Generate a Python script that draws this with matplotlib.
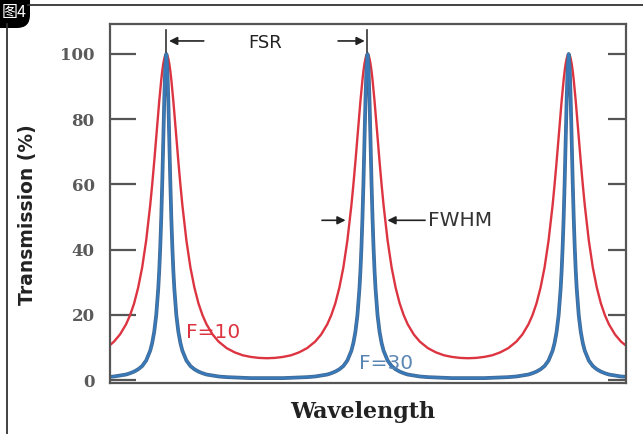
import matplotlib.pyplot as plt
import matplotlib.patheffects as pe
from matplotlib.lines import Line2D
from matplotlib.patches import FancyBboxPatch

# wavelength in units of the free spectral range (peaks at 0, 1, 2)
wavelength = [
    -0.28, -0.26, -0.23, -0.20, -0.18, -0.16, -0.14, -0.12, -0.10, -0.08, -0.07, -0.06,
    -0.05, -0.04, -0.035, -0.03, -0.025, -0.02, -0.015, -0.01, -0.005, 0.0,
    0.005, 0.01, 0.015, 0.02, 0.025, 0.03, 0.035, 0.04, 0.05, 0.06, 0.07, 0.08,
    0.10, 0.12, 0.14, 0.16, 0.18, 0.20, 0.23, 0.26, 0.30, 0.34, 0.38, 0.42, 0.46, 0.50,
    0.54, 0.58, 0.62, 0.66, 0.70, 0.74, 0.77, 0.80, 0.82, 0.84, 0.86, 0.88, 0.90, 0.92,
    0.93, 0.94, 0.95, 0.96, 0.965, 0.97, 0.975, 0.98, 0.985, 0.99, 0.995, 1.0,
    1.005, 1.01, 1.015, 1.02, 1.025, 1.03, 1.035, 1.04, 1.05, 1.06, 1.07, 1.08,
    1.10, 1.12, 1.14, 1.16, 1.18, 1.20, 1.23, 1.26, 1.30, 1.34, 1.38, 1.42, 1.46, 1.50,
    1.54, 1.58, 1.62, 1.66, 1.70, 1.74, 1.77, 1.80, 1.82, 1.84, 1.86, 1.88, 1.90, 1.92,
    1.93, 1.94, 1.95, 1.96, 1.965, 1.97, 1.975, 1.98, 1.985, 1.99, 1.995, 2.0,
    2.005, 2.01, 2.015, 2.02, 2.025, 2.03, 2.035, 2.04, 2.05, 2.06, 2.07, 2.08,
    2.10, 2.12, 2.14, 2.16, 2.18, 2.20, 2.23, 2.26, 2.29,
]

# F=10 (red)
trans_f10 = [
    10.7, 11.8, 14.0, 17.1, 19.9, 23.5, 28.3, 34.5, 42.8, 53.6, 60.0, 67.0,
    74.5, 82.0, 85.6, 89.0, 92.1, 94.8, 97.0, 98.6, 99.7, 100.0,
    99.7, 98.6, 97.0, 94.8, 92.1, 89.0, 85.6, 82.0, 74.5, 67.0, 60.0, 53.6,
    42.8, 34.5, 28.3, 23.5, 19.9, 17.1, 14.0, 11.8, 9.8, 8.5, 7.6, 7.1, 6.8, 6.7,
    6.8, 7.1, 7.6, 8.5, 9.8, 11.8, 14.0, 17.1, 19.9, 23.5, 28.3, 34.5, 42.8, 53.6,
    60.0, 67.0, 74.5, 82.0, 85.6, 89.0, 92.1, 94.8, 97.0, 98.6, 99.7, 100.0,
    99.7, 98.6, 97.0, 94.8, 92.1, 89.0, 85.6, 82.0, 74.5, 67.0, 60.0, 53.6,
    42.8, 34.5, 28.3, 23.5, 19.9, 17.1, 14.0, 11.8, 9.8, 8.5, 7.6, 7.1, 6.8, 6.7,
    6.8, 7.1, 7.6, 8.5, 9.8, 11.8, 14.0, 17.1, 19.9, 23.5, 28.3, 34.5, 42.8, 53.6,
    60.0, 67.0, 74.5, 82.0, 85.6, 89.0, 92.1, 94.8, 97.0, 98.6, 99.7, 100.0,
    99.7, 98.6, 97.0, 94.8, 92.1, 89.0, 85.6, 82.0, 74.5, 67.0, 60.0, 53.6,
    42.8, 34.5, 28.3, 23.5, 19.9, 17.1, 14.0, 11.8, 10.3,
]

# F=30 (blue)
trans_f30 = [
    1.0, 1.1, 1.4, 1.7, 2.1, 2.6, 3.3, 4.3, 6.0, 9.0, 11.4, 14.8,
    19.9, 28.0, 33.6, 40.8, 49.8, 60.7, 73.3, 86.1, 96.1, 100.0,
    96.1, 86.1, 73.3, 60.7, 49.8, 40.8, 33.6, 28.0, 19.9, 14.8, 11.4, 9.0,
    6.0, 4.3, 3.3, 2.6, 2.1, 1.7, 1.4, 1.1, 0.9, 0.8, 0.7, 0.6, 0.6, 0.6,
    0.6, 0.6, 0.7, 0.8, 0.9, 1.1, 1.4, 1.7, 2.1, 2.6, 3.3, 4.3, 6.0, 9.0,
    11.4, 14.8, 19.9, 28.0, 33.6, 40.8, 49.8, 60.7, 73.3, 86.1, 96.1, 100.0,
    96.1, 86.1, 73.3, 60.7, 49.8, 40.8, 33.6, 28.0, 19.9, 14.8, 11.4, 9.0,
    6.0, 4.3, 3.3, 2.6, 2.1, 1.7, 1.4, 1.1, 0.9, 0.8, 0.7, 0.6, 0.6, 0.6,
    0.6, 0.6, 0.7, 0.8, 0.9, 1.1, 1.4, 1.7, 2.1, 2.6, 3.3, 4.3, 6.0, 9.0,
    11.4, 14.8, 19.9, 28.0, 33.6, 40.8, 49.8, 60.7, 73.3, 86.1, 96.1, 100.0,
    96.1, 86.1, 73.3, 60.7, 49.8, 40.8, 33.6, 28.0, 19.9, 14.8, 11.4, 9.0,
    6.0, 4.3, 3.3, 2.6, 2.1, 1.7, 1.4, 1.1, 1.0,
]

y_ticks = [0, 20, 40, 60, 80, 100]

plt.rcParams['font.family'] = ['DejaVu Sans', 'Noto Sans CJK SC']

fig = plt.figure(figsize=(6.43, 4.34), dpi=100)
ax = fig.add_axes([0.171, 0.1175, 0.8026, 0.8272])

red = '#dc3541'
blue = '#3779b9'
ax.plot(wavelength, trans_f10, color=red, lw=1.7, solid_joinstyle='round')
ax.plot(wavelength, trans_f30, color=blue, lw=1.7, solid_joinstyle='round',
        path_effects=[pe.Stroke(linewidth=2.7, foreground='#47698f'), pe.Normal()])

ax.set_xlim(-0.28, 2.285)
ax.set_ylim(-0.9, 109.2)

# axes frame and ticks
for s in ax.spines.values():
    s.set_color('#555555')
    s.set_linewidth(1.6)
ax.set_xticks([])
ax.set_yticks(y_ticks)
ax.tick_params(axis='y', direction='in', length=19, width=1.6, color='#555555',
               labelsize=12, labelcolor='#5a5a5a', pad=11)
ax.tick_params(axis='y', right=True, labelright=False)
for t in ax.yaxis.get_ticklabels():
    t.set_family('DejaVu Serif')
    t.set_weight('bold')
# shorter ticks on the right side
for tk in ax.yaxis.get_major_ticks():
    tk.tick2line.set_markersize(13)

ax.set_ylabel('Transmission (%)', fontsize=13.5, fontweight='bold', color='#222222')
ax.yaxis.set_label_coords(-0.141, 0.47)
ax.set_xlabel('Wavelength', fontsize=16, fontweight='bold', family='DejaVu Serif',
              color='#222222')
ax.xaxis.set_label_coords(0.49, -0.05)

# FSR annotation
arrow = dict(arrowstyle='-|>', color='#222222', lw=1.2, mutation_scale=12)
ax.plot([0, 0], [100.5, 107.5], color='#333333', lw=1.2)
ax.plot([1, 1], [100.5, 107.5], color='#333333', lw=1.2)
ax.annotate('', xy=(0.0, 104), xytext=(0.2, 104), arrowprops=arrow)
ax.annotate('', xy=(1.0, 104), xytext=(0.84, 104), arrowprops=arrow)
ax.text(0.49, 103.5, 'FSR', fontsize=13, ha='center', va='center', color='#222222')

# FWHM annotation
ax.annotate('', xy=(0.905, 49), xytext=(0.76, 49), arrowprops=arrow)
ax.annotate('', xy=(1.085, 49), xytext=(1.3, 49), arrowprops=arrow)
ax.text(1.30, 49, 'FWHM', fontsize=14.5, ha='left', va='center', color='#333333')

ax.text(0.10, 14.5, 'F=10', fontsize=14.5, ha='left', va='center', color=red)
ax.text(0.96, 5.2, 'F=30', fontsize=14.5, ha='left', va='center', color='#5b86b3')

# page frame and figure badge (pixel coordinates)
fig.add_artist(Line2D([28 / 643, 1], [1 - 5 / 434, 1 - 5 / 434], transform=fig.transFigure,
                      color='#333333', lw=1.3))
fig.add_artist(Line2D([7 / 643, 7 / 643], [0, 1 - 24 / 434], transform=fig.transFigure,
                      color='#333333', lw=1.3))
badge = FancyBboxPatch((-30, 434 - 28), 60, 60,
                       boxstyle='round,pad=0,rounding_size=13',
                       transform=None, facecolor='black', edgecolor='none')
fig.add_artist(badge)
fig.text(14.5 / 643, 1 - 12 / 434, '图4', color='white', fontsize=11.5, ha='center', va='center',
         family=['Noto Sans CJK SC', 'DejaVu Sans'])

fig.savefig('out.png', dpi=100)
